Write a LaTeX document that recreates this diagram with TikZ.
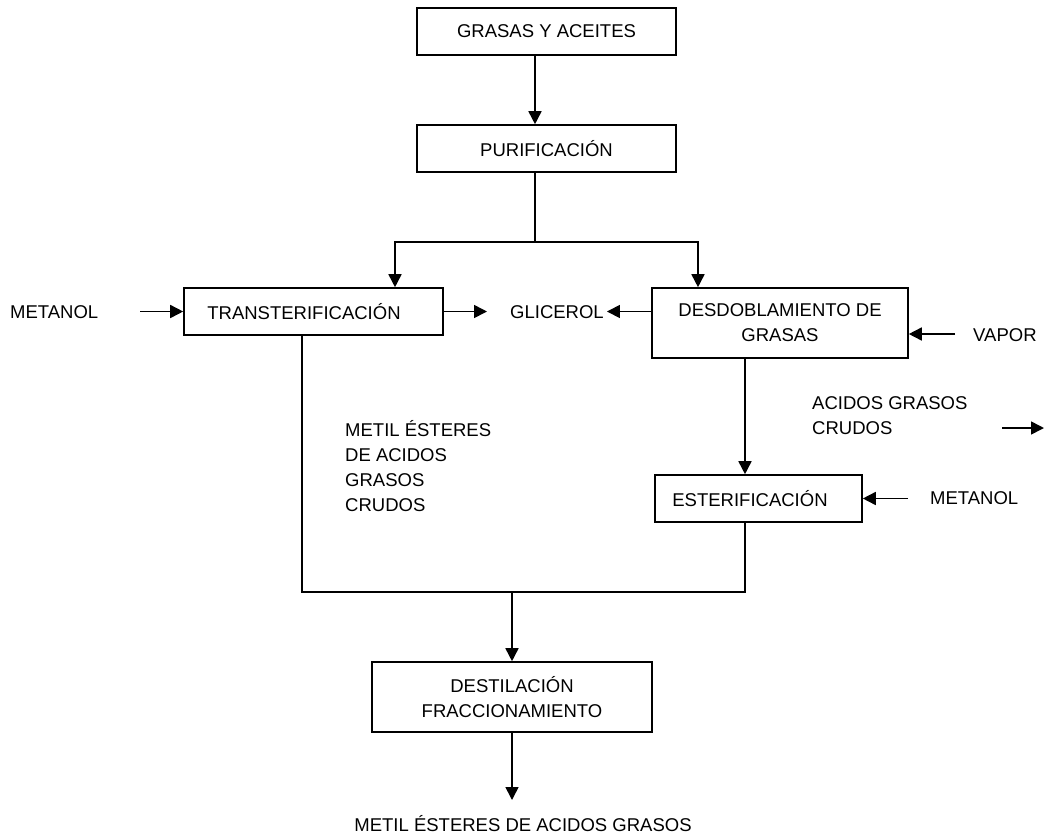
\documentclass[tikz,border=0pt]{standalone}
\usepackage{fontspec}
\setmainfont{Liberation Sans}
\usetikzlibrary{arrows.meta,calc}
\newcommand\fs{\fontsize{18.5}{25}\selectfont}
\tikzset{
  box/.style={draw, line width=1.6pt, rectangle, inner sep=0pt, align=center, font=\fs},
  lbl/.style={inner sep=0pt, font=\fs},
  arr/.style={line width=1.6pt, -{Triangle[length=13pt,width=13pt]}},
  ln/.style={line width=1.6pt},
}
\begin{document}
\begin{tikzpicture}[x=1pt,y=-1pt]
\useasboundingbox (0,0) rectangle (1045,836);
% boxes
\node[box, minimum width=259pt, minimum height=47pt] (ga) at (546.5,31.5) {GRASAS Y ACEITES};
\node[box, minimum width=259pt, minimum height=47pt] (pur) at (546.5,148.5) {PURIFICACIÓN};
\node[box, minimum width=259pt, minimum height=47pt,
      label={[lbl,xshift=-9.5pt]center:TRANSTERIFICACIÓN}] (tra) at (313.5,311.5) {};
\node[box, minimum width=256pt, minimum height=70pt] (des) at (780,323) {DESDOBLAMIENTO DE\\GRASAS};
\node[box, minimum width=207pt, minimum height=47pt,
      label={[lbl,xshift=-8.5pt]center:ESTERIFICACIÓN}] (est) at (758.5,498.5) {};
\node[box, minimum width=280pt, minimum height=70pt] (dst) at (512,697) {DESTILACIÓN\\FRACCIONAMIENTO};
% free labels
\node[lbl, anchor=base west] (met1) at (10,318.6) {METANOL};
\node[lbl, anchor=base west] (gli) at (510,318.6) {GLICEROL};
\node[lbl, anchor=base west] (vap) at (973,341.6) {VAPOR};
\node[lbl, anchor=base west] (ac1) at (812,409.6) {ACIDOS GRASOS};
\node[lbl, anchor=base west] (ac2) at (812,434.6) {CRUDOS};
\node[lbl, anchor=base west] (met2) at (930,504.6) {METANOL};
\node[lbl, anchor=base west] (m1) at (345,436.6) {METIL ÉSTERES};
\node[lbl, anchor=base west] (m2) at (345,461.6) {DE ACIDOS};
\node[lbl, anchor=base west] (m3) at (345,486.6) {GRASOS};
\node[lbl, anchor=base west] (m4) at (345,511.6) {CRUDOS};
\node[lbl, anchor=base] (out) at (523,831.6) {METIL ÉSTERES DE ACIDOS GRASOS};
% coordinates
\coordinate (pj) at (535,242);
\coordinate (lj) at (395,242);
\coordinate (rj) at (698,242);
\coordinate (m1s) at (140,311.5);
\coordinate (gt) at (487,311.5);
\coordinate (vs) at (955,334);
\coordinate (dx) at (745,0);
\coordinate (as) at (1002,428);
\coordinate (ae) at (1044,428);
\coordinate (m2s) at (908,498.5);
\coordinate (tx) at (302,0);
\coordinate (bj) at (512,592);
\coordinate (ot) at (512,800);
% connectors
\draw[arr] (ga.south -| pj) -- (pur.north -| pj);
\draw[ln] (pur.south -| pj) -- (pj);
\draw[arr] (pj) -| (tra.north -| lj);
\draw[arr] (pj) -| (des.north -| rj);
\draw[arr] (m1s) -- (tra.west);
\draw[arr] (tra.east) -- (gt);
\draw[arr, shorten >=3pt] (des.west |- gt) -- (gli.east |- gt);
\draw[arr] (vs) -- (des.east |- vs);
\draw[arr] (des.south -| dx) -- (est.north -| dx);
\draw[arr] (as) -- (ae);
\draw[arr] (m2s) -- (est.east);
\draw[ln] (tra.south -| tx) |- (bj) -| (est.south -| dx);
\draw[arr] (bj) -- (dst.north);
\draw[arr] (dst.south) -- (ot);
\end{tikzpicture}
\end{document}
